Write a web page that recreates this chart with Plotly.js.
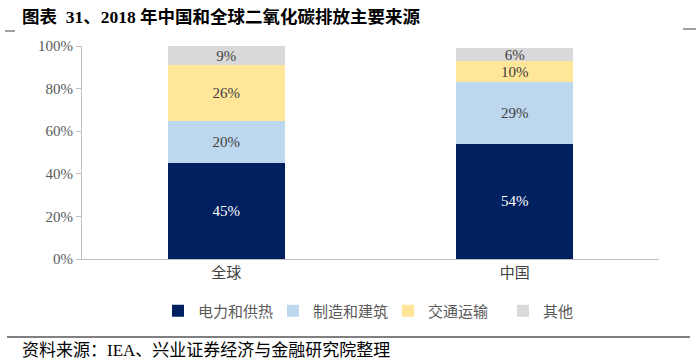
<!DOCTYPE html>
<html><head><meta charset="utf-8">
<script src="https://cdn.plot.ly/plotly-3.0.1.min.js"></script>
<style>html,body{margin:0;padding:0;background:#fff;}#chart{width:700px;height:363px;}</style>
</head><body><div id="chart"></div>
<script>
const categories = ["全球", "中国"];
const seriesNames = ["电力和供热", "制造和建筑", "交通运输", "其他"];
const power = [45, 54];
const manufacturing = [20, 29];
const transport = [26, 10];
const other = [9, 6];
const yTickVals = [0, 20, 40, 60, 80, 100];
const yTickText = ["0%", "20%", "40%", "60%", "80%", "100%"];

const colors = ["#002060", "#BDD7EE", "#FFE699", "#D9D9D9"];
const textColors = ["#FFFFFF", "#404040", "#404040", "#404040"];
const allVals = [power, manufacturing, transport, other];
const L = 82, R = 659, T = 46, B = 259;
const px = x => (x - L) / (R - L);
const py = y => (B - y) / (B - T);

const traces = allVals.map((v, i) => ({
  type: "bar", x: categories, y: v, name: seriesNames[i],
  marker: {color: colors[i]},
  text: v.map(d => d + "%"), textposition: "inside", insidetextanchor: "middle",
  textfont: {family: "Liberation Serif, serif", size: 15, color: textColors[i]},
  constraintext: "none", cliponaxis: false, hoverinfo: "skip"
}));

const layout = {
  width: 700, height: 363,
  margin: {l: L, r: 700 - R, t: T, b: 363 - B, autoexpand: false},
  barmode: "stack", bargap: 0.595,
  paper_bgcolor: "#fff", plot_bgcolor: "#fff",
  showlegend: true,
  legend: {orientation: "h", x: px(158), xanchor: "left", xref: "paper", y: py(311), yanchor: "middle", yref: "paper",
    font: {family: "Noto Sans CJK SC", size: 15, color: "#595959"},
    entrywidth: 70, entrywidthmode: "pixels",
    traceorder: "normal", itemclick: false},
  xaxis: {type: "category", showline: true, linecolor: "#BFBFBF", linewidth: 1, ticks: "", automargin: false,
    tickfont: {family: "Noto Sans CJK SC", size: 15, color: "#404040"}, fixedrange: true},
  yaxis: {range: [0, 100], tickvals: yTickVals, ticktext: yTickText, showgrid: false, zeroline: false, automargin: false,
    showline: true, linecolor: "#BFBFBF", ticks: "outside", ticklen: 5, tickcolor: "#BFBFBF",
    tickfont: {family: "Liberation Serif, serif", size: 15, color: "#595959"}, fixedrange: true},
  annotations: [
    {xref: "paper", yref: "paper", x: px(20), y: py(17), xanchor: "left", yanchor: "middle", showarrow: false,
     text: "<b>图表  31、2018 年中国和全球二氧化碳排放主要来源</b>",
     font: {family: "Liberation Serif, Noto Sans CJK SC", size: 17.5, color: "#000"}},
    {xref: "paper", yref: "paper", x: px(20), y: py(350), xanchor: "left", yanchor: "middle", showarrow: false,
     text: "资料来源：IEA、兴业证券经济与金融研究院整理",
     font: {family: "Liberation Serif, Noto Sans CJK SC", size: 17, color: "#000"}}
  ],
  shapes: [
    {type: "line", xref: "paper", yref: "paper", x0: px(7), x1: px(690), y0: py(337), y1: py(337), line: {color: "#808080", width: 2}},
    {type: "line", xref: "paper", yref: "paper", x0: px(5), x1: px(15), y0: py(31), y1: py(31), line: {color: "#808080", width: 1.5}},
    {type: "line", xref: "paper", yref: "paper", x0: px(683), x1: px(696), y0: py(29), y1: py(29), line: {color: "#808080", width: 1.5}}
  ]
};
Plotly.newPlot("chart", traces, layout, {displayModeBar: false, staticPlot: true});
</script></body></html>
